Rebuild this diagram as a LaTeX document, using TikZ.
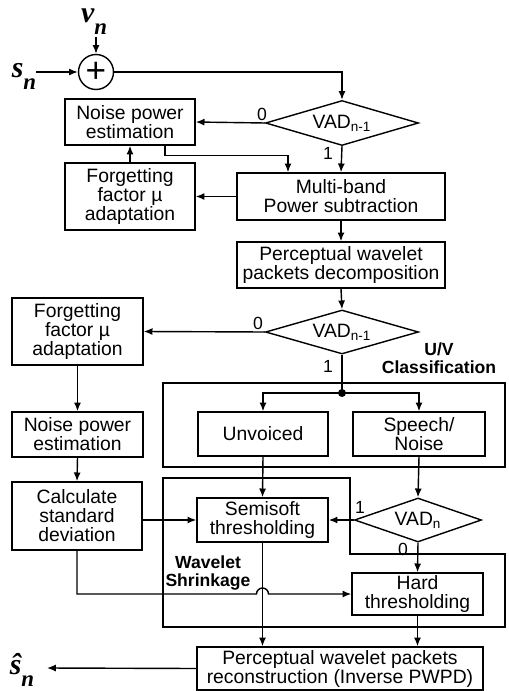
\documentclass[tikz,border=0pt]{standalone}
\usepackage{fontspec}
\setmainfont{Liberation Sans}
\newfontfamily\sigfont{Liberation Serif}
\usetikzlibrary{shapes.geometric,arrows.meta,calc}

\newcommand{\sigsub}[1]{\raisebox{-0.4em}{\fontsize{13}{13}\selectfont #1}}

\tikzset{
  blk/.style 2 args={draw,line width=0.8pt,align=center,inner sep=1pt,
    minimum width=#1*0.2mm,minimum height=#2*0.2mm,
    font=\fontsize{11}{10.8}\selectfont},
  vad/.style 2 args={draw,diamond,line width=0.8pt,inner sep=0pt,aspect=3,
    minimum width=#1*0.2mm,minimum height=#2*0.2mm,
    font=\fontsize{11}{11}\selectfont},
  adder/.style={draw,circle,line width=0.8pt,inner sep=0pt,minimum size=35*0.2mm,
    font=\fontsize{20}{20}\selectfont},
  sig/.style={inner sep=0pt,font=\fontsize{17}{17}\selectfont\sigfont\bfseries\itshape},
  bitlbl/.style={inner sep=0pt,font=\fontsize{10}{10}\selectfont},
  grplbl/.style={inner sep=0pt,align=center,font=\fontsize{10}{10.5}\selectfont\bfseries},
  grpframe/.style={line width=1.6pt},
}

\begin{document}
\begin{tikzpicture}[x=0.2mm,y=-0.2mm,>={Latex[length=5pt,width=4pt]},line width=0.8pt]
\useasboundingbox (0,0) rectangle (508,691);

% input and adder
\node[sig] (vn) at (94,22) {v\sigsub{n}};
\node[sig] (sn) at (24,76) {s\sigsub{n}};
\node[adder] (sum) at (96,72) {+};
\coordinate (vin) at (96,37);
\coordinate (sin) at (36,72);
\draw[->] (vin) -- (sum.north);
\draw[->] (sin) -- (sum.west);

% first stage: power subtraction
\node[vad={153}{45}] (vad1) at (342,123) {VAD\textsubscript{n-1}};
\node[blk={130}{46}] (noise1) at (130,122) {Noise power\\estimation};
\node[blk={130}{67}] (forget1) at (130,196.5) {Forgetting\\factor µ\\adaptation};
\node[blk={208}{47}] (multi) at (341,196.5) {Multi-band\\Power subtraction};
\node[blk={208}{46}] (pwpd) at (341,265) {Perceptual wavelet\\packets decomposition};

\draw[->] (sum.east) -| (vad1.north);
\draw[->] (vad1.west) -- (noise1.east);
\draw[->] (vad1.south) -- (multi.north);
\draw[->] ($(noise1.south)+(35,0)$) -- ++(0,10) -| ($(multi.north)+(-53,0)$);
\draw[->] (multi.west) -- (forget1.east);
\draw[->] (forget1.north) -- (noise1.south);
\draw[->] (multi.south) -- (pwpd.north);
\node[bitlbl] at (262,114) {0};
\node[bitlbl] at (328,153) {1};

% second stage: U/V classification
\node[vad={153}{44}] (vad2) at (342,332) {VAD\textsubscript{n-1}};
\node[blk={131}{67}] (forget2) at (77.5,331.5) {Forgetting\\factor µ\\adaptation};
\node[blk={131}{45}] (noise2) at (77.5,434.5) {Noise power\\estimation};
\node[blk={130}{68}] (calc) at (77,516) {Calculate\\standard\\deviation};
\node[blk={130}{44}] (unvoiced) at (263,434) {Unvoiced};
\node[blk={132}{44}] (speech) at (419,434) {Speech/\\Noise};
\coordinate (split) at (342,393);

\draw[->] (pwpd.south) -- (vad2.north);
\draw[->] (vad2.west) -- (forget2.east);
\draw (vad2.south) -- (split);
\fill (split) circle (4);
\draw[->] (split) -| (unvoiced.north);
\draw[->] (split) -| (speech.north);
\draw[->] (forget2.south) -- (noise2.north);
\draw[->] (noise2.south) -- (calc.north);
\node[bitlbl] at (258,323) {0};
\node[bitlbl] at (328,366) {1};

\draw[grpframe] (163,383) rectangle (505,467);
\node[grplbl] at (439,358) {U/V\\Classification};

% third stage: wavelet shrinkage
\node[blk={131}{44}] (semi) at (262.5,520) {Semisoft\\thresholding};
\node[vad={127}{44}] (vadn) at (418,520) {VAD\textsubscript{n}};
\node[blk={131}{42}] (hard) at (417.5,594) {Hard\\thresholding};
\node[blk={286}{43}] (pwpr) at (340,668.5) {Perceptual wavelet packets\\reconstruction (Inverse PWPD)};
\node[sig] (shat) at (22,670) {\^{s}\sigsub{n}};
\coordinate (sout) at (47,668);

\draw[->] (unvoiced.south) -- (semi.north);
\draw[->] (speech.south) -- (vadn.north);
\draw[->] (calc.east |- semi.west) -- (semi.west);
\draw[->] (vadn.west) -- (semi.east);
\draw[->] (vadn.south) -- (hard.north);
\draw[->] (calc.south) |- ($(semi.south |- hard.west)+(-6,0)$)
  arc[start angle=180,end angle=360,radius=6] -- (hard.west);
\draw[->] (semi.south) -- (semi.south |- pwpr.north);
\draw[->] (hard.south) -- (hard.south |- pwpr.north);
\draw[->] (pwpr.west) -- (sout);
\node[bitlbl] at (360,507) {1};
\node[bitlbl] at (403,549) {0};

\draw[grpframe] (163,478) -- (350,478) -- (350,554) -- (505,554)
  -- (505,627) -- (163,627) -- cycle;
\node[grplbl] at (208,573) {Wavelet\\Shrinkage};
\end{tikzpicture}
\end{document}
